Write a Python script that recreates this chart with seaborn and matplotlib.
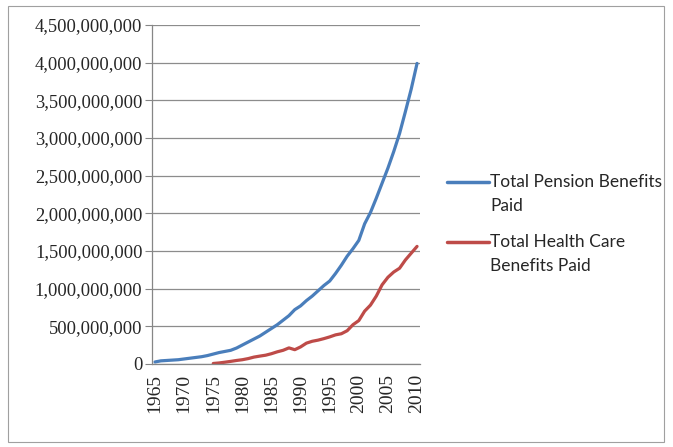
import pandas as pd
import matplotlib.pyplot as plt
import matplotlib.ticker as mticker
import seaborn as sns

# 数据（从图中估读，单位：百万）
years = list(range(1965, 2011))
pension = [25, 40, 45, 50, 55, 65, 75, 85, 95, 110,
           130, 150, 165, 180, 210, 250, 290, 330, 370, 420,
           470, 520, 580, 640, 720, 770, 840, 900, 970, 1040,
           1100, 1200, 1310, 1430, 1530, 1640, 1860, 2010, 2200, 2400,
           2600, 2820, 3060, 3350, 3650, 3990]
health_years = list(range(1975, 2011))
health = [5, 12, 22, 33, 45, 55, 70, 90, 103, 115,
          135, 160, 180, 212, 188, 225, 275, 300, 315, 335,
          358, 385, 400, 440, 520, 575, 700, 780, 900, 1050,
          1150, 1220, 1270, 1380, 1470, 1560]

pension_label = "Total Pension Benefits\nPaid"
health_label = "Total Health Care\nBenefits Paid"
colors = ["#4a7ebb", "#be4b48"]

df = pd.concat([
    pd.DataFrame({"year": years, "value": [v * 1e6 for v in pension], "series": pension_label}),
    pd.DataFrame({"year": health_years, "value": [v * 1e6 for v in health], "series": health_label}),
])

sns.set_style("white")
plt.rcParams['font.family'] = ['Liberation Serif', 'DejaVu Sans']

fig = plt.figure(figsize=(6.73, 4.47), dpi=100)
ax = fig.add_axes([0.226, 0.186, 0.398, 0.758])

sns.lineplot(data=df, x="year", y="value", hue="series",
             palette=colors, linewidth=2.3, ax=ax, legend=False)

ax.set_xlim(1964.5, 2010.5)
ax.set_ylim(0, 4.5e9)
ax.yaxis.set_major_locator(mticker.MultipleLocator(5e8))
ax.yaxis.set_major_formatter(mticker.FuncFormatter(lambda v, p: f"{int(v):,}"))
ax.set_xticks(list(range(1965, 2011, 5)))
ax.set_xticklabels([str(y) for y in range(1965, 2011, 5)], rotation=90)
ax.set_xticks([y + 0.5 for y in range(1964, 2011)], minor=True)
ax.tick_params(axis="x", which="major", length=0, pad=7, labelsize=14)
ax.tick_params(axis="x", which="minor", length=4, color="#868686", width=0.8, direction="out")
ax.tick_params(axis="y", length=5, color="#868686", width=0.8, direction="out",
               labelsize=13.3, left=True, pad=2)
ax.set_xlabel("")
ax.set_ylabel("")

ax.grid(axis="y", color="#8c8c8c", linewidth=0.9)
ax.set_axisbelow(True)
for s in ["top", "right"]:
    ax.spines[s].set_visible(False)
for s in ["left", "bottom"]:
    ax.spines[s].set_color("#868686")
    ax.spines[s].set_linewidth(0.9)

# 图例（手动绘制，线与第一行文字对齐）
for lab, col, yy in [(pension_label, colors[0], 0.593), (health_label, colors[1], 0.459)]:
    fig.add_artist(plt.Line2D([0.664, 0.726], [yy, yy], color=col, linewidth=2.5,
                              transform=fig.transFigure))
    fig.text(0.728, yy + 0.0175, lab, va="top", ha="left", fontsize=12.5, linespacing=1.6,
             family=["Lato", "DejaVu Sans"], transform=fig.transFigure)

# 外框
fig.patches.append(plt.Rectangle((0.012, 0.012), 0.975, 0.975, transform=fig.transFigure,
                                 fill=False, edgecolor="#a0a0a0", linewidth=0.8))

fig.savefig("out.png", dpi=100)
